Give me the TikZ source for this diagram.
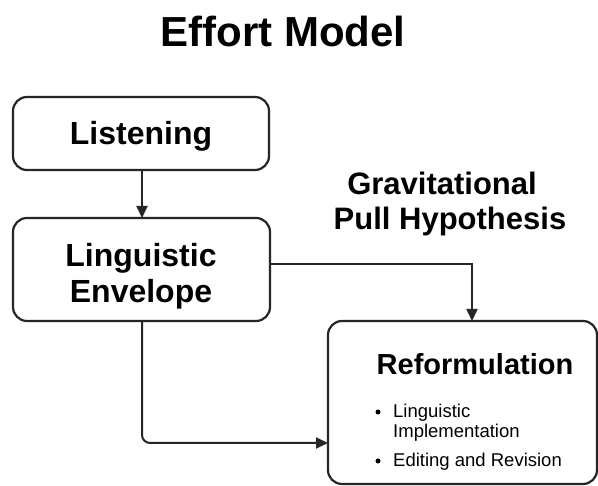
\documentclass[tikz,border=0pt]{standalone}
\usepackage{fontspec}
\setmainfont{Liberation Sans}
\usetikzlibrary{arrows.meta}
\begin{document}
\begin{tikzpicture}[x=1pt,y=-1pt,
  box/.style={draw=black!85,line width=2.2pt,rounded corners=14pt},
  conn/.style={draw=black!85,line width=2pt,-{Triangle[length=12pt,width=11pt]}},
  big/.style={font=\fontsize{32}{36}\selectfont\bfseries,inner sep=0pt,anchor=base},
  mid/.style={font=\fontsize{31}{36}\selectfont\bfseries,inner sep=0pt,anchor=base},
  small/.style={font=\fontsize{18.5}{22}\selectfont,inner sep=0pt,anchor=base west}]
\useasboundingbox[fill=white] (0,0) rectangle (598,486);
\node[font=\fontsize{42}{46}\selectfont\bfseries,inner sep=0pt,anchor=base] (title) at (283,47) {Effort Model};
\path[box] (13,97) rectangle (269,170);
\node[big] (listen) at (141,145) {Listening};
\coordinate (lb) at (142,170);
\path[box] (13,218) rectangle (270,321);
\node[big] (env1) at (141,267) {Linguistic};
\node[big] (env2) at (141,303) {Envelope};
\coordinate (et) at (142,218);
\coordinate (eb) at (142,321);
\coordinate (er) at (270,264);
\node[mid] (grav1) at (442,195) {Gravitational};
\node[mid] (grav2) at (450,230) {Pull Hypothesis};
\path[box] (328,321) rectangle (597,484);
\node[font=\fontsize{29}{32}\selectfont\bfseries,inner sep=0pt,anchor=base] (ref) at (475,375) {Reformulation};
\coordinate (rt) at (472,321);
\coordinate (rl) at (328,443);
\node[small] (b1) at (393,418) {Linguistic};
\node[small] (b1b) at (393,438) {Implementation};
\node[small] (b2) at (393,467) {Editing and Revision};
\fill (378,412) circle (2.5pt);
\fill (378,461) circle (2.5pt);
\draw[conn] (lb) -- (et);
\draw[conn] (er) -| (rt);
\draw[conn,rounded corners=8pt] (eb) |- (rl);
\end{tikzpicture}
\end{document}
